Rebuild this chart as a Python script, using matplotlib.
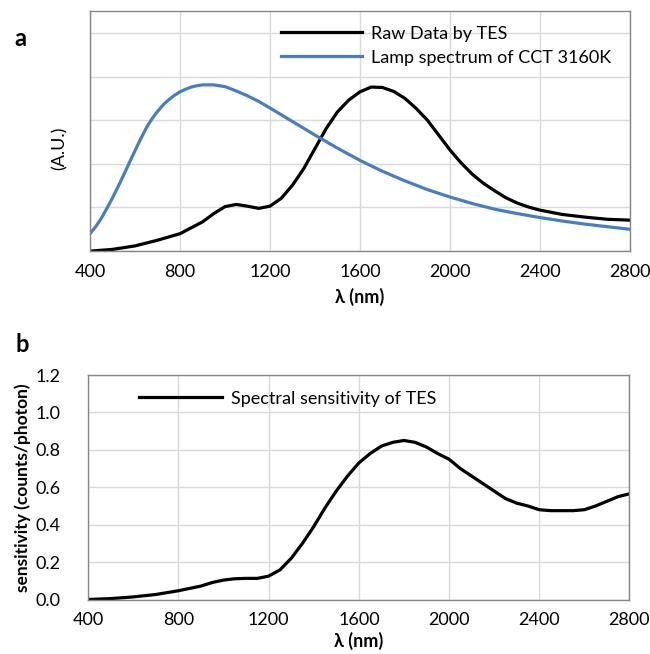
import matplotlib.pyplot as plt

plt.rcParams['font.family'] = ['Lato', 'DejaVu Sans']

# panel a: raw TES data and lamp spectrum (arbitrary units)
wl_raw = [400, 500, 600, 700, 800, 900, 950, 1000, 1050, 1100, 1150, 1200, 1250,
          1300, 1350, 1400, 1450, 1500, 1550, 1600, 1650, 1700, 1750, 1800, 1850,
          1900, 1950, 2000, 2050, 2100, 2150, 2200, 2250, 2300, 2350, 2400, 2500,
          2600, 2700, 2800]
raw = [0.00, 0.04, 0.12, 0.25, 0.40, 0.67, 0.86, 1.02, 1.07, 1.03, 0.98, 1.03, 1.21,
       1.51, 1.89, 2.35, 2.81, 3.19, 3.46, 3.65, 3.76, 3.75, 3.66, 3.50, 3.27,
       3.00, 2.66, 2.32, 2.02, 1.76, 1.55, 1.38, 1.22, 1.10, 1.01, 0.94, 0.84,
       0.78, 0.73, 0.71]

wl_lamp = [400, 425, 450, 475, 500, 525, 550, 575, 600, 625, 650, 675, 700, 725,
           750, 775, 800, 825, 850, 875, 900, 950, 1000, 1050, 1100, 1150, 1200,
           1300, 1400, 1500, 1600, 1700, 1800, 1900, 2000, 2100, 2200, 2300, 2400,
           2500, 2600, 2700, 2800]
lamp = [0.40, 0.56, 0.75, 0.98, 1.22, 1.48, 1.75, 2.03, 2.30, 2.57, 2.82, 3.03,
        3.20, 3.35, 3.47, 3.57, 3.65, 3.71, 3.76, 3.79, 3.81, 3.81, 3.77, 3.67,
        3.56, 3.43, 3.28, 2.97, 2.66, 2.36, 2.08, 1.83, 1.61, 1.41, 1.24, 1.09,
        0.96, 0.86, 0.77, 0.69, 0.62, 0.56, 0.50]

# panel b: spectral sensitivity
wl_sens = [400, 500, 600, 700, 800, 900, 950, 1000, 1050, 1100, 1150, 1200, 1250,
           1300, 1350, 1400, 1450, 1500, 1550, 1600, 1650, 1700, 1750, 1800, 1850,
           1900, 1950, 2000, 2050, 2100, 2150, 2200, 2250, 2300, 2350, 2400, 2450,
           2500, 2550, 2600, 2650, 2700, 2750, 2800]
sens = [0.000, 0.005, 0.014, 0.027, 0.047, 0.072, 0.091, 0.104, 0.111, 0.113, 0.113,
        0.125, 0.158, 0.22, 0.30, 0.39, 0.49, 0.58, 0.66, 0.73, 0.78, 0.82, 0.84,
        0.85, 0.84, 0.815, 0.78, 0.75, 0.70, 0.66, 0.62, 0.58, 0.54, 0.515, 0.50,
        0.48, 0.475, 0.475, 0.475, 0.48, 0.50, 0.525, 0.55, 0.565]

xticks = [400, 800, 1200, 1600, 2000, 2400, 2800]

grid_c = '#d9d9d9'
spine_c = '#868686'
blue = '#4A7EBB'

fig = plt.figure(figsize=(6.5, 6.54), dpi=100)
ax1 = fig.add_axes([0.1385, 0.616, 0.8305, 0.367])
ax2 = fig.add_axes([0.1358, 0.0833, 0.8325, 0.3433])

for ax in (ax1, ax2):
    ax.set_xlim(400, 2800)
    ax.set_xticks(xticks)
    ax.grid(True, color=grid_c, linewidth=1.0)
    ax.set_axisbelow(True)
    ax.tick_params(length=0, labelsize=13, pad=9)
    for s in ax.spines.values():
        s.set_color(spine_c)
        s.set_linewidth(1.0)

ax1.set_xlabel('λ (nm)', fontsize=13, fontweight='bold', labelpad=6)
ax2.set_xlabel('λ (nm)', fontsize=13, fontweight='bold', labelpad=3)

# a
ax1.plot(wl_raw, raw, color='black', linewidth=2.3, label='Raw Data by TES')
ax1.plot(wl_lamp, lamp, color=blue, linewidth=2.3, label='Lamp spectrum of CCT 3160K')
ax1.set_ylim(0, 5.5)
ax1.set_yticks([0, 1, 2, 3, 4, 5])
ax1.set_yticklabels([])
ax1.legend(loc='upper left', bbox_to_anchor=(0.354, 0.94), frameon=False,
           fontsize=13, handlelength=4.5, handletextpad=0.5, labelspacing=0.45,
           borderpad=0, borderaxespad=0)
fig.text(60 / 650, 1 - 148 / 654, '(A.U.)', rotation=90, fontsize=13,
         ha='center', va='center')
fig.text(20 / 650, 1 - 39 / 654, 'a', fontsize=17, fontweight='bold',
         ha='center', va='center')

# b
ax2.plot(wl_sens, sens, color='black', linewidth=2.3, label='Spectral sensitivity of TES')
ax2.set_ylim(0, 1.2)
ax2.set_yticks([0, 0.2, 0.4, 0.6, 0.8, 1.0, 1.2])
ax2.set_yticklabels(['%.1f' % v for v in ax2.get_yticks()])
ax2.tick_params(axis='y', pad=20)
ax2.set_ylabel('sensitivity (counts/photon)', fontsize=12.5, fontweight='bold', labelpad=3)
ax2.legend(loc='upper left', bbox_to_anchor=(0.094, 0.93), frameon=False,
           fontsize=13, handlelength=4.6, handletextpad=0.5,
           borderpad=0, borderaxespad=0)
fig.text(22 / 650, 1 - 345 / 654, 'b', fontsize=17, fontweight='bold',
         ha='center', va='center')

fig.savefig('out.png', dpi=100)
